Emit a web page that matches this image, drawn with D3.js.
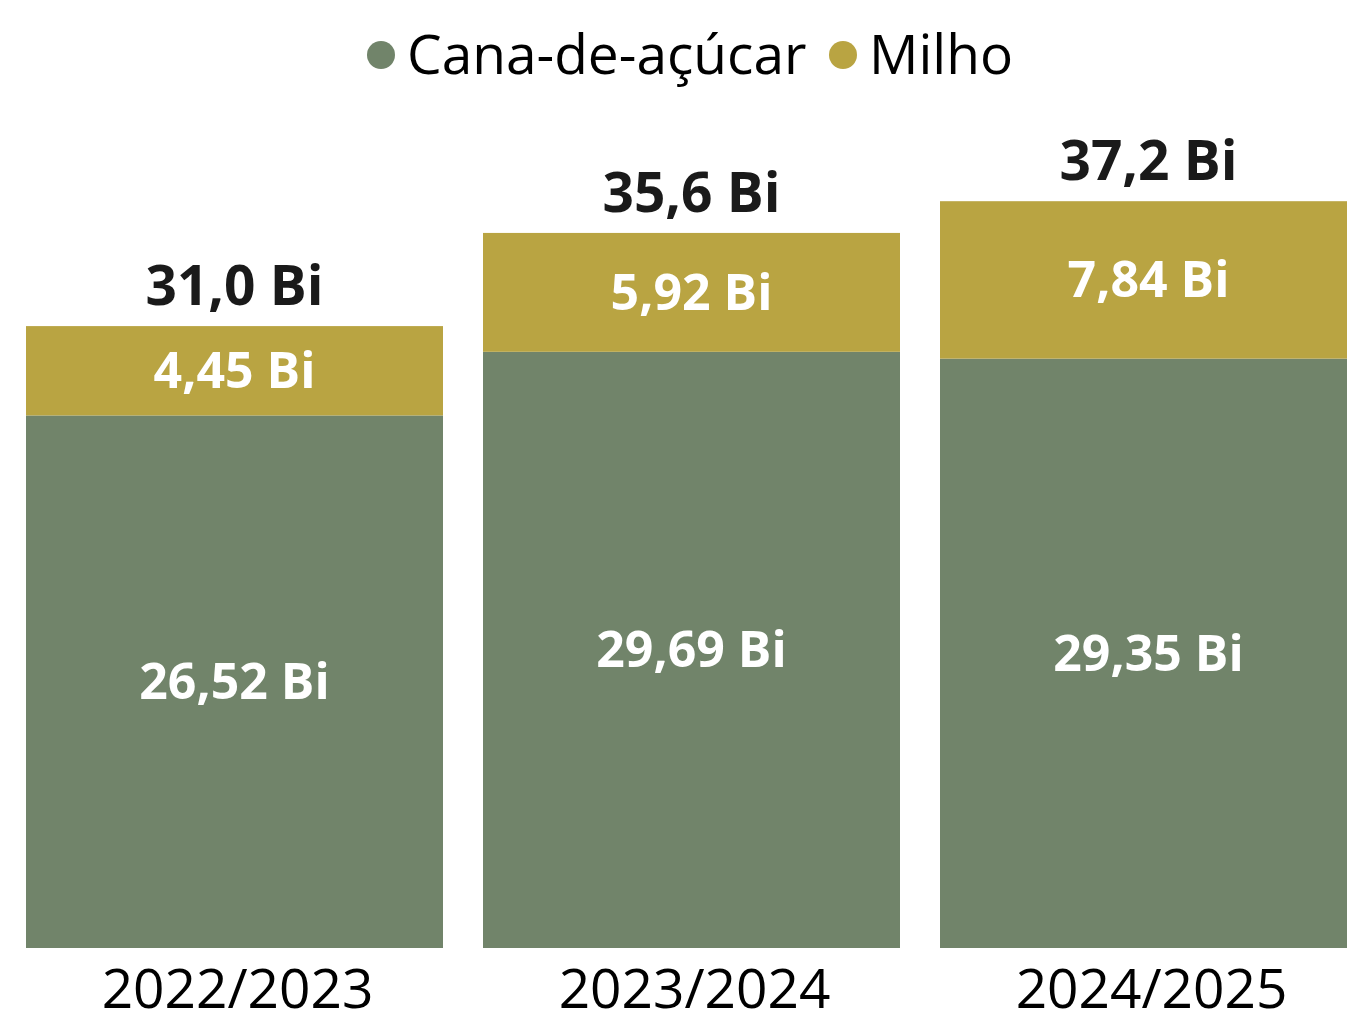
<!DOCTYPE html>
<html>
<head>
<meta charset="utf-8">
<script src="https://cdn.jsdelivr.net/npm/d3@7"></script>
<style>
  body { margin: 0; background: #fff; }
  svg { display: block; font-family: "Open Sans", "Noto Sans", sans-serif; }
</style>
</head>
<body>
<svg id="chart" width="1347" height="1017"></svg>
<script>
// safras
var categories = ['2022/2023', '2023/2024', '2024/2025'];
var cana = [26.52, 29.69, 29.35];
var milho = [4.45, 5.92, 7.84];
var totals = [31.0, 35.6, 37.2];
var seriesNames = ['Cana-de-açúcar', 'Milho'];
var colors = ['#71846a', '#b9a442'];

var svg = d3.select('#chart');

function fmt(v, d) {
    return v.toFixed(d).replace('.', ',') + ' Bi';
}

var x = d3.scaleBand()
    .domain(categories)
    .range([26, 26 + 3 * 457 - 40])
    .paddingInner(40 / 457)
    .paddingOuter(0);

var y = d3.scaleLinear()
    .domain([0, 37.2])
    .range([948, 201]);

var rows = categories.map(function(c, i){
    return {cat: c, cana: cana[i], milho: milho[i], total: totals[i]};
});

var stack = d3.stack().keys(['cana', 'milho'])(rows);

var layers = svg.selectAll('.layer').data(stack)
    .enter().append('g')
    .attr('class', 'layer')
    .attr('fill', function(d, i){ return colors[i]; });

layers.selectAll('rect').data(function(d){ return d; })
    .enter().append('rect')
    .attr('x', function(d){ return x(d.data.cat); })
    .attr('y', function(d){ return y(d[1]); })
    .attr('width', x.bandwidth())
    .attr('height', function(d){ return y(d[0]) - y(d[1]); });

// segment labels
layers.selectAll('text').data(function(d){ return d; })
    .enter().append('text')
    .attr('x', function(d){ return x(d.data.cat) + 417 / 2; })
    .attr('y', function(d){ return (y(d[0]) + y(d[1])) / 2; })
    .attr('dy', '0.35em')
    .attr('text-anchor', 'middle')
    .attr('fill', '#fff')
    .attr('font-weight', 'bold')
    .attr('font-size', 50)
    .text(function(d){ return fmt(d[1] - d[0], 2); });

// totals
svg.selectAll('.total').data(rows)
    .enter().append('text')
    .attr('class', 'total')
    .attr('x', function(d){ return x(d.cat) + 417 / 2; })
    .attr('y', function(d){ return y(d.total) - 21; })
    .attr('text-anchor', 'middle')
    .attr('fill', '#1a1a1a')
    .attr('font-weight', 'bold')
    .attr('font-size', 55)
    .text(function(d){ return fmt(d.total, 1); });

// x axis labels
var xAxis = svg.append('g')
    .attr('transform', 'translate(0,948)')
    .call(d3.axisBottom(x).tickSize(0).tickPadding(21));
xAxis.select('.domain').remove();
xAxis.selectAll('.tick').attr('transform', function(d){ return 'translate(' + (x(d) + 417 / 2 + 3) + ',0)'; });
xAxis.selectAll('text')
    .attr('fill', '#000')
    .attr('font-family', '"Open Sans", "Noto Sans", sans-serif')
    .attr('font-size', 55);

// legend
var legend = svg.append('g').attr('transform', 'translate(0,55)');
var legX = [381, 843];
var item = legend.selectAll('.leg').data(seriesNames)
    .enter().append('g')
    .attr('class', 'leg')
    .attr('transform', function(d, i){ return 'translate(' + legX[i] + ',0)'; });
item.append('circle')
    .attr('r', 14)
    .attr('fill', function(d, i){ return colors[i]; });
item.append('text')
    .attr('x', 26)
    .attr('dy', '0.35em')
    .attr('font-size', 55)
    .attr('font-weight', 500)
    .attr('fill', '#000')
    .text(function(d){ return d; });
</script>
</body>
</html>
